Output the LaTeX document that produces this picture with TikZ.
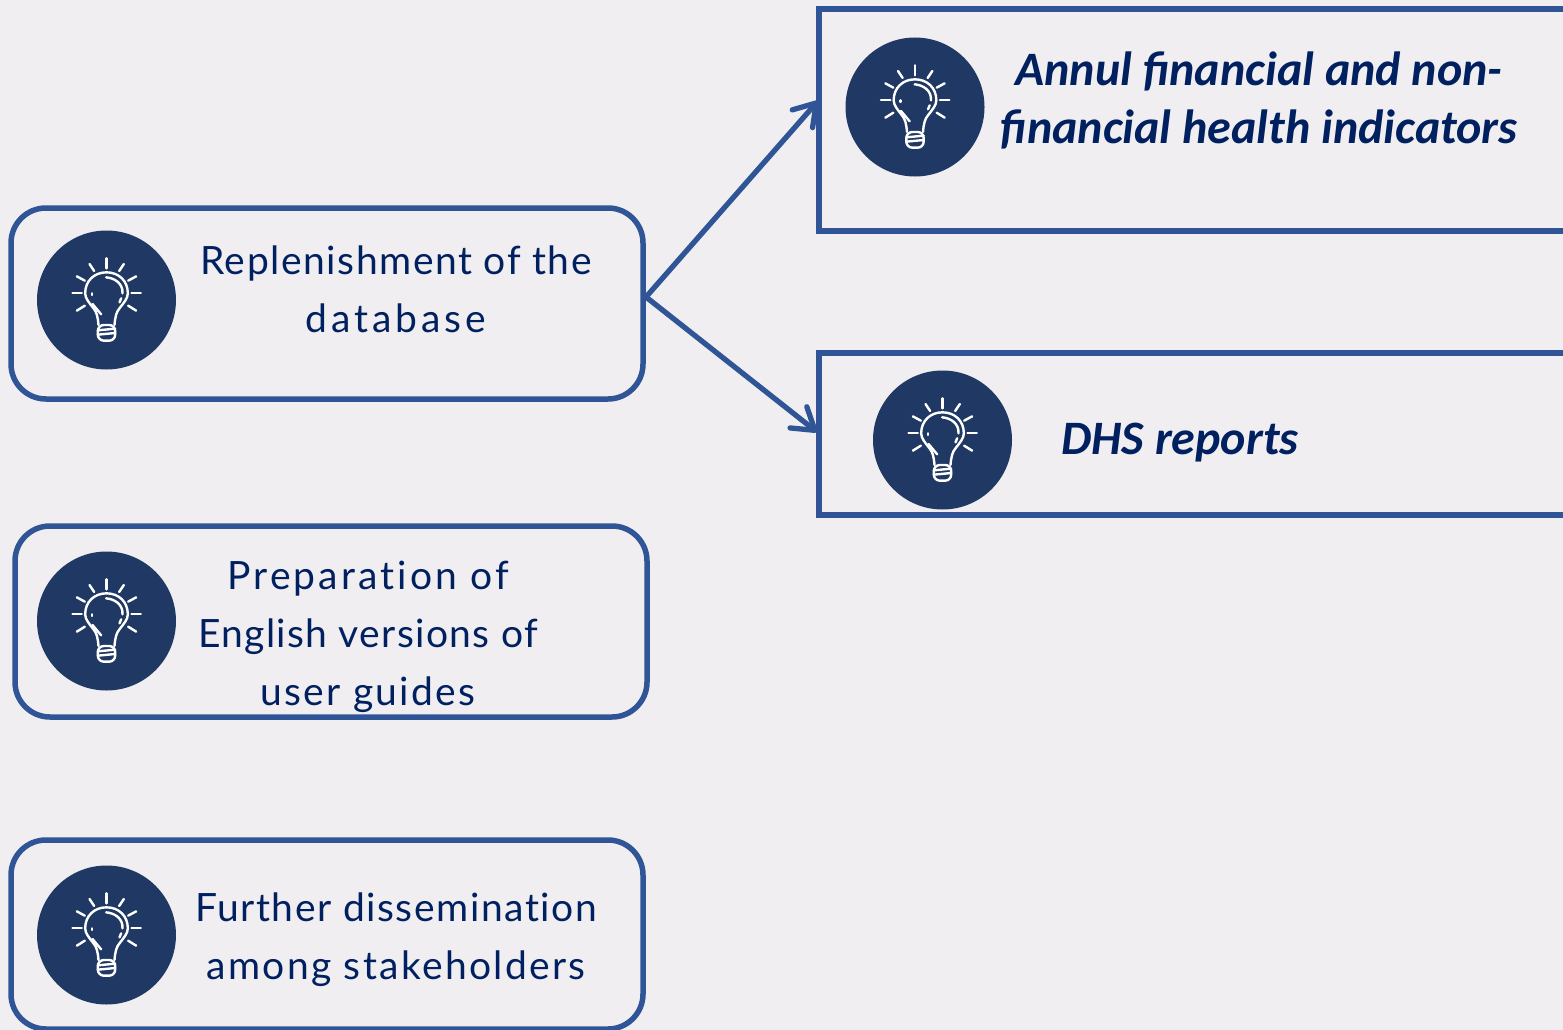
\documentclass[tikz,border=0pt]{standalone}
\usepackage{fontspec}
\setmainfont{Lato}[Ligatures=NoCommon]
\newfontfamily\itfont{Carlito}
\usetikzlibrary{arrows.meta}
\definecolor{bgc}{HTML}{F0EEF1}
\definecolor{edgec}{HTML}{2F5597}
\definecolor{discc}{HTML}{1F3864}
\definecolor{textc}{HTML}{002060}
\newcommand{\lsp}[2]{{\addfontfeature{LetterSpace=#1}#2}}
\tikzset{
  roundbox/.style={draw=edgec,line width=5.5pt,rounded corners=35pt,anchor=north west,inner sep=0pt,outer sep=0pt},
  squarebox/.style={draw=edgec,line width=5.5pt,anchor=north west,inner sep=0pt,outer sep=0pt},
  disc/.style={circle,fill=discc,minimum size=139pt,inner sep=0pt},
  plaintext/.style={text=textc,align=center,inner sep=0pt,font=\fontsize{39}{58}\selectfont},
  boldtext/.style={text=textc,align=center,inner sep=0pt,font=\itfont\bfseries\itshape\fontsize{48}{58}\selectfont},
  link/.style={draw=edgec,line width=5.3pt,line cap=round,-{Straight Barb[length=21pt,width=27pt,round]}},
  bulbline/.style={draw=white,line width=2.4pt,line cap=round,line join=round},
  pics/bulb/.style={code={
    \begin{scope}[x=0.3333pt,y=0.3333pt,bulbline]
      \draw (0,125)--(0,95);
      \draw (-51,108)--(-37,87);\draw (52,108)--(38,87);
      \draw (-89,71)--(-65,58);\draw (89,71)--(65,58);
      \draw (-102,21)--(-74,21);\draw (103,21)--(75,21);
      \draw (-89,-32)--(-65,-17);\draw (89,-32)--(65,-17);
      \draw (-24,-75) .. controls (-26,-50) and (-30,-35) .. (-39,-25)
        .. controls (-52,-8) and (-64,5) .. (-64,20)
        .. controls (-64,58) and (-36,83) .. (0,83)
        .. controls (36,83) and (64,58) .. (64,20)
        .. controls (64,5) and (52,-8) .. (39,-25)
        .. controls (30,-35) and (26,-50) .. (24,-75);
      \draw[rounded corners=6pt] (-26,-75)--(-26,-122)--(26,-122)--(26,-75)--cycle;
      \draw (-26,-91)--(26,-86);
      \draw (-26,-104)--(26,-99);
      \draw (-1,68) .. controls (24,66) and (50,50) .. (48,20);
      \draw (44,5)--(39,-7);
      \draw (-44,20)--(-44,15);
      \draw (-42,-12)--(-16,-43);
    \end{scope}
  }}
}
\begin{document}
\begin{tikzpicture}[x=1pt,y=-1pt]
\path[use as bounding box,fill=bgc] (0,0) rectangle (1563,1030);
\clip (0,0) rectangle (1563,1030);
% boxes
\node[roundbox,minimum width=632pt,minimum height=191pt] (b1) at (11,208) {};
\node[roundbox,minimum width=632pt,minimum height=191pt] (b2) at (15,526) {};
\node[roundbox,minimum width=632pt,minimum height=189pt] (b3) at (11,840) {};
\node[squarebox,minimum width=800pt,minimum height=222pt] (r1) at (819,9) {};
\node[squarebox,minimum width=800pt,minimum height=162pt] (r2) at (819,353) {};
% discs and bulbs
\node[disc] (d1) at (106.5,300) {};
\node[disc] (d2) at (106.5,621) {};
\node[disc] (d3) at (106.5,935) {};
\node[disc] (d4) at (915,107) {};
\node[disc] (d5) at (942.5,440) {};
\pic at (d1.center) {bulb};
\pic at (d2.center) {bulb};
\pic at (d3.center) {bulb};
\pic at (d4.center) {bulb};
\pic at (d5.center) {bulb};
% text
\node[plaintext] (t1) at (396,289) {\lsp{4}{Replenishment of the}\\\lsp{10}{database}};
\node[plaintext] (t2) at (368,637) {\lsp{8}{Preparation of}\\\lsp{3.5}{English versions of}\\\lsp{6}{user guides}};
\node[plaintext] (t3) at (396,940) {\lsp{4}{Further dissemination}\\\lsp{6}{among stakeholders}};
\node[boldtext] (t4) at (1259,100) {Annul financial and non-\\financial health indicators};
\node[boldtext] (t5) at (1180,443) {DHS reports};
% connectors
\coordinate (src) at (646,297);
\coordinate (dst1) at (818,101);
\coordinate (dst2) at (817,432);
\draw[link] (src) -- (dst1);
\draw[link] (src) -- (dst2);
\end{tikzpicture}
\end{document}
